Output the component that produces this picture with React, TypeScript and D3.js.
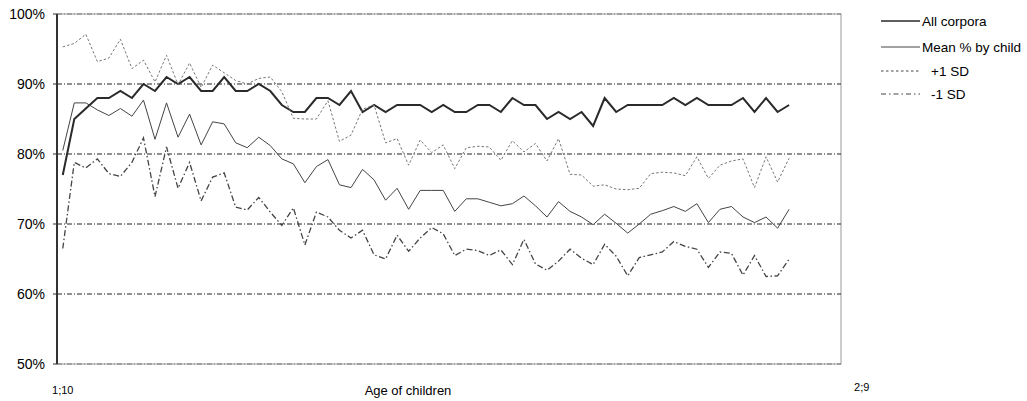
import React from 'react';
import * as d3 from 'd3';

const categoryCount = 68;
const allCorpora = [
  77, 85, 86.5, 88, 88, 89, 88, 90, 89, 91,
  90, 91, 89, 89, 91, 89, 89, 90, 89, 87,
  86, 86, 88, 88, 87, 89, 86, 87, 86, 87,
  87, 87, 86, 87, 86, 86, 87, 87, 86, 88,
  87, 87, 85, 86, 85, 86, 84, 88, 86, 87,
  87, 87, 87, 88, 87, 88, 87, 87, 87, 88,
  86, 88, 86, 87,
];
const meanByChild = [
  80.5, 87.3, 87.3, 86.3, 85.5, 86.5, 85.4, 87.7, 82.1, 87.3,
  82.4, 85.7, 81.3, 84.6, 84.3, 81.6, 80.9, 82.4, 81.2, 79.3,
  78.6, 75.9, 78.2, 79.2, 75.6, 75.2, 77.8, 76.3, 73.4, 75.1,
  72.1, 74.8, 74.8, 74.8, 71.8, 73.6, 73.6, 73.1, 72.6, 72.9,
  74.0, 72.6, 71.0, 73.2, 71.8, 71.0, 69.9, 71.4, 70.1, 68.7,
  70.0, 71.4, 71.9, 72.5, 71.8, 72.9, 70.2, 72.1, 72.5, 71.0,
  70.2, 71.0, 69.4, 72.1,
];
const plusSD = [
  95.3, 95.8, 97.1, 93.2, 93.7, 96.4, 92.2, 93.4, 90.3, 94.1,
  89.9, 93.0, 89.5, 92.7, 91.6, 90.5, 90.0, 90.8, 91.0, 88.9,
  85.1, 85.0, 85.0, 87.6, 81.8, 82.7, 86.4, 87.0, 81.6, 82.2,
  78.4, 82.0, 80.2, 81.3, 77.9, 80.9, 81.1, 81.0, 79.1, 81.9,
  80.3, 81.5, 79.0, 82.2, 77.1, 77.0, 75.4, 75.6, 75.0, 74.9,
  75.1, 77.2, 77.4, 77.3, 76.9, 79.6, 76.5, 78.4, 79.0, 79.3,
  75.2, 79.6, 76.0, 79.4,
];
const minusSD = [
  66.5, 78.8, 78, 79.3, 77.2, 76.8, 78.8, 82.3, 73.9, 81,
  75.1, 78.8, 73.3, 76.7, 77.3, 72.4, 72, 73.8, 71.7, 69.8,
  72.3, 67, 71.7, 71, 69.1, 68, 69.1, 65.6, 65, 68.4,
  66.1, 68, 69.5, 68.6, 65.5, 66.4, 66.2, 65.5, 66.3, 64.2,
  67.8, 64.3, 63.4, 64.7, 66.4, 65.1, 64.2, 67.1, 65.4, 62.6,
  65.2, 65.6, 66, 67.5, 66.8, 66.4, 63.8, 66, 65.8, 62.7,
  65.5, 62.5, 62.6, 65,
];
const yTicks = [50, 60, 70, 80, 90, 100];
const xTickLabels = ['1;10', '2;9'];
const xTickSlots = [0.5, 69.8];
const seriesNames = ['All corpora', 'Mean % by child', '+1 SD', '-1 SD'];

const W = 1027;
const H = 401;
const M = { left: 57, right: 841, top: 14, bottom: 364 };
const FONT = '"Liberation Sans", Arial, sans-serif';

const styles = [
  { stroke: '#2a2a2a', width: 2, dash: undefined as string | undefined },
  { stroke: '#444', width: 1, dash: undefined as string | undefined },
  { stroke: '#777', width: 1, dash: '2.5,2' },
  { stroke: '#444', width: 1.3, dash: '6,2.5,1.5,2.5' },
];

export default function App() {
  const x = d3.scaleLinear().domain([0, categoryCount]).range([M.left, M.right]);
  const y = d3.scaleLinear().domain([50, 100]).range([M.bottom, M.top]);
  const line = d3
    .line<number>()
    .x((_, i) => x(i + 0.5))
    .y((d) => y(d));
  const series = [allCorpora, meanByChild, plusSD, minusSD];
  const legendY = [21, 47, 71, 94];
  const legendTextX = [922, 922, 931, 931];

  return (
    <svg
      width={W}
      height={H}
      style={{ position: 'absolute', left: 0, top: 0, background: '#fff' }}
      fontFamily={FONT}
    >
      <rect x={M.left} y={M.top} width={M.right - M.left} height={M.bottom - M.top} fill="#fff" stroke="#999" strokeWidth={1} />
      {yTicks.map((t) => (
        <g key={t}>
          <line
            x1={M.left}
            x2={M.right}
            y1={y(t)}
            y2={y(t)}
            stroke={t === 50 || t === 100 ? '#777' : '#222'}
            strokeWidth={1}
            strokeDasharray="5,2,1,2"
          />
          <line x1={M.left - 4} x2={M.left} y1={y(t)} y2={y(t)} stroke="#333" strokeWidth={1} />
          <text x={45} y={y(t)} dy="0.36em" textAnchor="end" fontSize={14} fill="#000">
            {t}%
          </text>
        </g>
      ))}
      <line x1={M.left} x2={M.left} y1={M.top} y2={M.bottom} stroke="#333" strokeWidth={2} />
      {series.map((s, k) => (
        <path
          key={k}
          d={line(s) || ''}
          fill="none"
          stroke={styles[k].stroke}
          strokeWidth={styles[k].width}
          strokeDasharray={styles[k].dash}
          strokeLinejoin="miter"
        />
      ))}
      {xTickLabels.map((l, i) => (
        <text key={l} x={x(xTickSlots[i])} y={i === 0 ? 394 : 391} textAnchor="middle" fontSize={11} fill="#000">
          {l}
        </text>
      ))}
      <text x={408} y={395} textAnchor="middle" fontSize={13} fill="#000">
        Age of children
      </text>
      {seriesNames.map((n, k) => (
        <g key={n}>
          <line
            x1={881}
            x2={920}
            y1={legendY[k]}
            y2={legendY[k]}
            stroke={k === 2 ? '#444' : styles[k].stroke}
            strokeWidth={k === 0 ? 1.5 : 1}
            strokeDasharray={k === 2 ? '2.5,2.5' : k === 3 ? '5,3,1.5,3' : undefined}
          />
          <text x={legendTextX[k]} y={legendY[k]} dy="0.36em" fontSize={13.5} fill="#000">
            {n}
          </text>
        </g>
      ))}
    </svg>
  );
}
